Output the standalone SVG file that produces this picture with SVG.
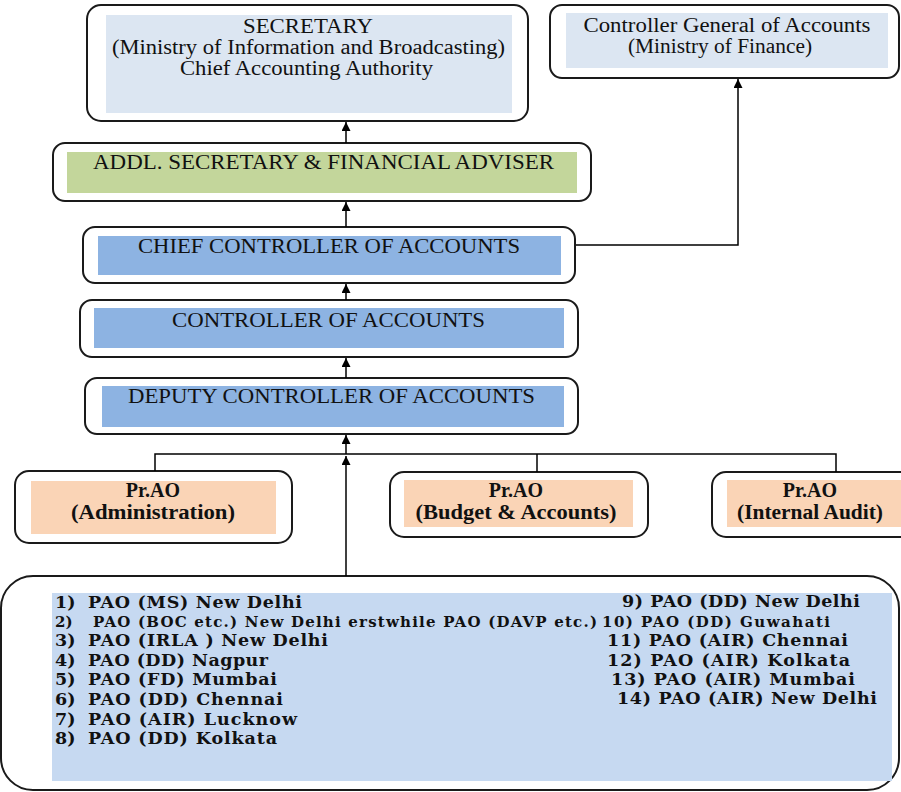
<svg xmlns="http://www.w3.org/2000/svg" width="901" height="792" viewBox="0 0 901 792">
<defs>
<marker id="ah" viewBox="0 0 10 10" refX="10" refY="5" markerWidth="9" markerHeight="9" markerUnits="userSpaceOnUse" orient="auto">
<path d="M0,0 L10,5 L0,10 Z" fill="#000"/>
</marker>
<style>
.box{fill:#fff;stroke:#1a1a1a;stroke-width:2}
.lt{fill:#dce6f2}
.gr{fill:#c3d69b}
.bl{fill:#8db3e2}
.pe{fill:#fad4b6}
.lb{fill:#c6d9f1}
.t{font-family:"Liberation Serif","Times New Roman",serif;font-size:20px;fill:#111;text-anchor:middle}
.tb{font-family:"Liberation Serif","Times New Roman",serif;font-size:20px;font-weight:bold;fill:#111;text-anchor:middle}
.p{font-family:"DejaVu Serif",serif;font-weight:bold;font-size:17.5px;fill:#111}
.ps{font-family:"DejaVu Serif",serif;font-weight:bold;font-size:15px;fill:#111}
.c{fill:none;stroke:#000;stroke-width:1.5}
</style>
</defs>

<g id="secretary">
<rect class="box" x="87" y="5" width="441" height="116" rx="14"/>
<rect class="lt" x="106" y="15" width="406" height="98"/>
<text class="t" x="308" y="33" textLength="130" lengthAdjust="spacingAndGlyphs">SECRETARY</text>
<text class="t" x="308.5" y="54" textLength="393" lengthAdjust="spacingAndGlyphs">(Ministry of Information and Broadcasting)</text>
<text class="t" x="306.5" y="75" textLength="253" lengthAdjust="spacingAndGlyphs">Chief Accounting Authority</text>
</g>

<g id="cga">
<rect class="box" x="550" y="5" width="349" height="73" rx="12"/>
<rect class="lt" x="566" y="13" width="322" height="55"/>
<text class="t" x="727" y="32" textLength="287" lengthAdjust="spacingAndGlyphs">Controller General of Accounts</text>
<text class="t" x="720" y="53" textLength="184" lengthAdjust="spacingAndGlyphs">(Ministry of Finance)</text>
</g>

<g id="addl">
<rect class="box" x="53" y="143" width="538" height="58" rx="12"/>
<rect class="gr" x="67" y="152" width="510" height="41"/>
<text class="t" x="323.5" y="169" textLength="461" lengthAdjust="spacingAndGlyphs">ADDL. SECRETARY &amp; FINANCIAL ADVISER</text>
</g>

<g id="cca">
<rect class="box" x="83" y="227" width="492" height="56" rx="12"/>
<rect class="bl" x="98" y="236" width="463" height="39"/>
<text class="t" x="329" y="253" textLength="382" lengthAdjust="spacingAndGlyphs">CHIEF CONTROLLER OF ACCOUNTS</text>
</g>

<g id="controller">
<rect class="box" x="80" y="300" width="498" height="57" rx="12"/>
<rect class="bl" x="94" y="308" width="470" height="40"/>
<text class="t" x="328.5" y="327" textLength="313" lengthAdjust="spacingAndGlyphs">CONTROLLER OF ACCOUNTS</text>
</g>

<g id="deputy">
<rect class="box" x="85" y="378" width="493" height="56" rx="12"/>
<rect class="bl" x="102" y="386" width="462" height="41"/>
<text class="t" x="331.5" y="403" textLength="407" lengthAdjust="spacingAndGlyphs">DEPUTY CONTROLLER OF ACCOUNTS</text>
</g>

<g id="prao-admin">
<rect class="box" x="15" y="471" width="277" height="72" rx="14"/>
<rect class="pe" x="31" y="481" width="245" height="53"/>
<text class="tb" x="153" y="497">Pr.AO</text>
<text class="tb" x="153" y="519" textLength="164" lengthAdjust="spacingAndGlyphs">(Administration)</text>
</g>

<g id="prao-budget">
<rect class="box" x="390" y="472" width="258" height="65" rx="14"/>
<rect class="pe" x="404" y="480" width="229" height="47"/>
<text class="tb" x="516" y="497">Pr.AO</text>
<text class="tb" x="516" y="519" textLength="201" lengthAdjust="spacingAndGlyphs">(Budget &amp; Accounts)</text>
</g>

<g id="prao-audit">
<rect class="box" x="712" y="472" width="210" height="65" rx="14"/>
<rect class="pe" x="727" y="480" width="174" height="47"/>
<text class="tb" x="810" y="497">Pr.AO</text>
<text class="tb" x="810" y="519" textLength="146" lengthAdjust="spacingAndGlyphs">(Internal Audit)</text>
</g>

<g id="pao-list">
<rect class="box" x="1" y="576" width="898" height="214" rx="32"/>
<rect class="lb" x="52" y="593" width="840" height="188"/>
<text class="p" x="55" y="608">1)</text><text class="p" x="88" y="608" textLength="214" lengthAdjust="spacing">PAO (MS) New Delhi</text>
<text class="ps" x="55" y="627">2)</text><text class="ps" x="93" y="627" textLength="504" lengthAdjust="spacing">PAO (BOC etc.) New Delhi erstwhile PAO (DAVP etc.)</text>
<text class="p" x="55" y="646">3)</text><text class="p" x="88" y="646" textLength="240" lengthAdjust="spacing">PAO (IRLA ) New Delhi</text>
<text class="p" x="55" y="666">4)</text><text class="p" x="88" y="666" textLength="180" lengthAdjust="spacing">PAO (DD) Nagpur</text>
<text class="p" x="55" y="685">5)</text><text class="p" x="88" y="685" textLength="189" lengthAdjust="spacing">PAO (FD) Mumbai</text>
<text class="p" x="55" y="705">6)</text><text class="p" x="88" y="705" textLength="195" lengthAdjust="spacing">PAO (DD) Chennai</text>
<text class="p" x="55" y="725">7)</text><text class="p" x="88" y="725" textLength="209" lengthAdjust="spacing">PAO (AIR) Lucknow</text>
<text class="p" x="55" y="744">8)</text><text class="p" x="88" y="744" textLength="189" lengthAdjust="spacing">PAO (DD) Kolkata</text>
<text class="p" x="622" y="607" textLength="238" lengthAdjust="spacing">9) PAO (DD) New Delhi</text>
<text class="ps" x="602" y="627" textLength="228" lengthAdjust="spacing">10) PAO (DD) Guwahati</text>
<text class="p" x="607" y="646" textLength="241" lengthAdjust="spacing">11) PAO (AIR) Chennai</text>
<text class="p" x="607" y="666" textLength="243" lengthAdjust="spacing">12) PAO (AIR) Kolkata</text>
<text class="p" x="611" y="685" textLength="244" lengthAdjust="spacing">13) PAO (AIR) Mumbai</text>
<text class="p" x="617" y="704" textLength="260" lengthAdjust="spacing">14) PAO (AIR) New Delhi</text>
</g>

<g id="connectors">
<line class="c" x1="346" y1="143" x2="346" y2="122" marker-end="url(#ah)"/>
<line class="c" x1="346" y1="227" x2="346" y2="202" marker-end="url(#ah)"/>
<line class="c" x1="346" y1="300" x2="346" y2="284" marker-end="url(#ah)"/>
<line class="c" x1="346" y1="378" x2="346" y2="358" marker-end="url(#ah)"/>
<line class="c" x1="346" y1="454" x2="346" y2="435" marker-end="url(#ah)"/>
<line class="c" x1="346" y1="576" x2="346" y2="456" marker-end="url(#ah)"/>
<polyline class="c" points="576,245 738,245 738,79" marker-end="url(#ah)"/>
<polyline class="c" points="155,471 155,454 836,454 836,472"/>
<line class="c" x1="537" y1="454" x2="537" y2="472"/>
</g>
</svg>
